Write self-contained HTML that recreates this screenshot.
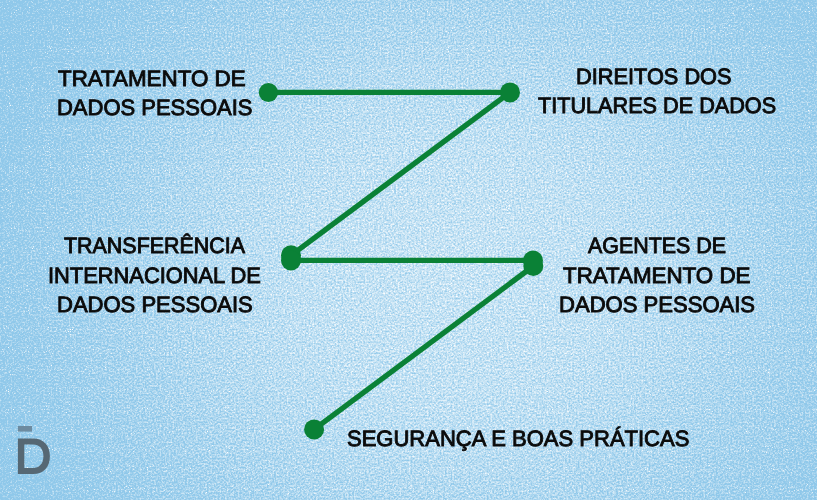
<!DOCTYPE html>
<html lang="pt">
<head>
<meta charset="utf-8">
<title>LGPD</title>
<style>
html,body{margin:0;padding:0;}
body{width:817px;height:500px;overflow:hidden;position:relative;background:#8fc8ea;font-family:"Liberation Sans",sans-serif;}
#art{position:absolute;left:0;top:0;}
.t{position:absolute;white-space:nowrap;color:#0b0b0b;font-size:22.2px;line-height:30px;
 -webkit-text-stroke:0.9px #0b0b0b;transform-origin:0 0;text-rendering:geometricPrecision;font-weight:normal;opacity:0.999;}
</style>
</head>
<body>
<svg id="art" width="817" height="500" viewBox="0 0 817 500">
 <defs>
  <radialGradient id="glow" gradientUnits="userSpaceOnUse" cx="0" cy="0" r="1" gradientTransform="translate(450 270) scale(650 546)">
   <stop offset="0" stop-color="#fff" stop-opacity="0.59"/>
   <stop offset="0.23" stop-color="#fff" stop-opacity="0.54"/>
   <stop offset="0.346" stop-color="#fff" stop-opacity="0.47"/>
   <stop offset="0.46" stop-color="#fff" stop-opacity="0.37"/>
   <stop offset="0.577" stop-color="#fff" stop-opacity="0.27"/>
   <stop offset="0.69" stop-color="#fff" stop-opacity="0.165"/>
   <stop offset="0.846" stop-color="#fff" stop-opacity="0.03"/>
   <stop offset="1" stop-color="#fff" stop-opacity="0"/>
  </radialGradient>
  <filter id="grain" x="0" y="0" width="100%" height="100%" color-interpolation-filters="sRGB">
   <feTurbulence type="fractalNoise" baseFrequency="0.55" numOctaves="2" seed="11" result="n"/>
   <feColorMatrix in="n" type="matrix" values="0 0 0 0 1  0 0 0 0 1  0 0 0 0 1  1 0 0 0 0" result="nw"/>
   <feComposite in="SourceGraphic" in2="nw" operator="arithmetic" k1="0" k2="1" k3="1.4" k4="-0.8" result="g1"/>
   <feTurbulence type="fractalNoise" baseFrequency="0.95" numOctaves="1" seed="3" result="n2"/>
   <feColorMatrix in="n2" type="matrix" values="0 0 0 0 1  0 0 0 0 1  0 0 0 0 1  0 7 0 0 -4.7" result="sp"/>
   <feMerge><feMergeNode in="g1"/><feMergeNode in="sp"/></feMerge>
  </filter>
 </defs>
 <rect width="817" height="500" fill="url(#glow)" filter="url(#grain)"/>
 <g stroke="#0a8136" stroke-width="5.4" fill="none" stroke-linecap="butt">
  <line x1="268.4" y1="92.4" x2="510" y2="92.4"/>
  <line x1="510" y1="92.4" x2="291" y2="255.3"/>
  <line x1="291" y1="260.4" x2="533" y2="260.4"/>
  <line x1="533.5" y1="266" x2="314.1" y2="429.4"/>
 </g>
 <g fill="#0a8136">
  <circle cx="268.4" cy="92.5" r="9.6"/>
  <circle cx="510" cy="92.4" r="10"/>
  <circle cx="291" cy="255.3" r="10"/>
  <circle cx="291" cy="260.4" r="10"/>
  <circle cx="533" cy="260.6" r="10"/>
  <circle cx="533.3" cy="266" r="10"/>
  <circle cx="314.1" cy="429.4" r="10"/>
 </g>
 <rect x="17.9" y="426" width="14.1" height="5.6" fill="#6d8ba0"/>
 <path d="M17.9 438.5 H33 C44 438.5 49.9 446 49.9 456.2 C49.9 466.5 44 474 33 474 H17.9 Z M24.3 444.6 V467.9 H32.6 C39.6 467.9 43.4 463.5 43.4 456.2 C43.4 449 39.6 444.6 32.6 444.6 Z" fill="#566874" fill-rule="evenodd"/>
</svg>
<div class="t" id="a1" style="left:58.10px;top:63.77px;transform:scaleX(1.0081) rotate(0.01deg);">TRATAMENTO DE</div>
<div class="t" id="a2" style="left:56.86px;top:93.17px;transform:scaleX(0.9908) rotate(0.01deg);">DADOS PESSOAIS</div>
<div class="t" id="b1" style="left:575.87px;top:61.87px;transform:scaleX(0.9805) rotate(0.01deg);">DIREITOS DOS</div>
<div class="t" id="b2" style="left:537.60px;top:91.47px;transform:scaleX(0.9754) rotate(0.01deg);">TITULARES DE DADOS</div>
<div class="t" id="c1" style="left:64.00px;top:230.67px;transform:scaleX(0.9660) rotate(0.01deg);">TRANSFERÊNCIA</div>
<div class="t" id="c2" style="left:47.92px;top:260.57px;transform:scaleX(0.9848) rotate(0.01deg);">INTERNACIONAL DE</div>
<div class="t" id="c3" style="left:56.76px;top:290.37px;transform:scaleX(0.9923) rotate(0.01deg);">DADOS PESSOAIS</div>
<div class="t" id="d1" style="left:587.98px;top:230.97px;transform:scaleX(0.9650) rotate(0.01deg);">AGENTES DE</div>
<div class="t" id="d2" style="left:563.10px;top:260.77px;transform:scaleX(1.0075) rotate(0.01deg);">TRATAMENTO DE</div>
<div class="t" id="d3" style="left:558.66px;top:290.27px;transform:scaleX(0.9939) rotate(0.01deg);">DADOS PESSOAIS</div>
<div class="t" id="e1" style="left:346.50px;top:423.57px;transform:scaleX(0.9917) rotate(0.01deg);">SEGURANÇA E BOAS PRÁTICAS</div>
</body>
</html>
